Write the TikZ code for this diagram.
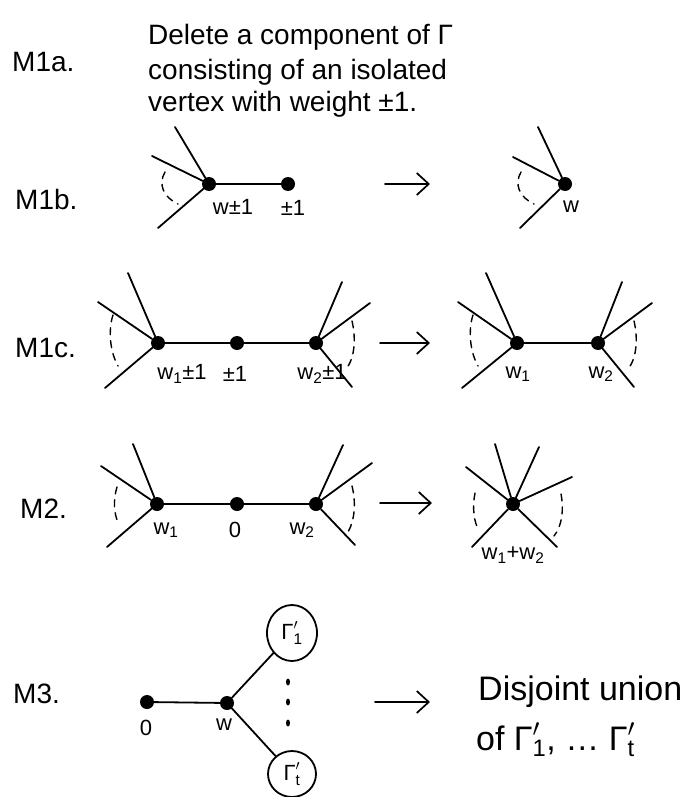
\documentclass[tikz,border=0pt]{standalone}
\usepackage{amsmath}
\usepackage{fontspec}
\setmainfont{Liberation Sans}
\usetikzlibrary{arrows.meta,shapes.geometric}
% primed Gamma with a subscript, prime and index stacked
\newcommand{\gp}[1]{$\text{Γ}^{\prime}_{\text{#1}}$}
\begin{document}
\begin{tikzpicture}[x=1pt,y=-1pt,
  edge/.style={line width=1.8pt,line cap=round},
  vtx/.style={circle,fill,inner sep=0pt,minimum size=14pt},
  gap/.style={line width=1.4pt,dash pattern=on 7pt off 6pt,line cap=round},
  move/.style={line width=1.7pt,line cap=round,-{Straight Barb[length=12pt,width=22pt,line width=1.7pt]}},
  tag/.style={inner sep=0pt,font=\fontsize{28}{30}\selectfont},
  body/.style={inner sep=0pt,font=\fontsize{28}{33}\selectfont},
  big/.style={inner sep=0pt,font=\fontsize{34}{40}\selectfont},
  wt/.style={inner sep=0pt,font=\fontsize{22}{24}\selectfont},
  blob/.style={draw,line width=1.8pt,ellipse,inner sep=0pt,font=\fontsize{22}{24}\selectfont},
]
\useasboundingbox (0,0) rectangle (690,797);

% ---------- M1a ----------
\node[tag,anchor=base west] (t1a) at (12,72) {M1a.};
\node[body,anchor=base west] (d1) at (148,45) {Delete a component of Γ};
\node[body,anchor=base west] (d2) at (148,80) {consisting of an isolated};
\node[body,anchor=base west] (d3) at (148,111) {vertex with weight ±1.};

% ---------- M1b ----------
\node[tag,anchor=base west] (t1b) at (15,209) {M1b.};
\node[vtx] (bw) at (209,184) {};
\node[vtx] (bu) at (288,184) {};
\coordinate (bt) at (175,127);
\coordinate (bl) at (152,156);
\coordinate (bb) at (158,228);
\draw[edge] (bw) -- (bt);
\draw[edge] (bw) -- (bl);
\draw[edge] (bw) -- (bb);
\draw[edge] (bw) -- (bu);
\draw[gap] (165,172) .. controls (158,184) and (163,197) .. (178,204);
\node[wt] (lbw) at (233,207) {w±1};
\node[wt] (lbu) at (293,208) {±1};

\coordinate (ba0) at (385,184);
\coordinate (ba1) at (430,184);
\draw[move] (ba0) -- (ba1);

\node[vtx] (cw) at (565,184) {};
\coordinate (ct) at (538,127);
\coordinate (cl) at (513,157);
\coordinate (cb) at (520,228);
\draw[edge] (cw) -- (ct);
\draw[edge] (cw) -- (cl);
\draw[edge] (cw) -- (cb);
\draw[gap] (521,172) .. controls (514,184) and (519,197) .. (534,204);
\node[wt] (lcw) at (571,207) {w};

% ---------- M1c ----------
\node[tag,anchor=base west] (t1c) at (15,357) {M1c.};
\node[vtx] (a1) at (158,343) {};
\node[vtx] (a2) at (237,343) {};
\node[vtx] (a3) at (316,343) {};
\coordinate (a1t) at (128,273);
\coordinate (a1l) at (98,302);
\coordinate (a1b) at (105,388);
\coordinate (a3t) at (342,282);
\coordinate (a3r) at (370,303);
\coordinate (a3b) at (352,387);
\draw[edge] (a1) -- (a1t);
\draw[edge] (a1) -- (a1l);
\draw[edge] (a1) -- (a1b);
\draw[edge] (a3) -- (a3t);
\draw[edge] (a3) -- (a3r);
\draw[edge] (a3) -- (a3b);
\draw[edge] (a1) -- (a2);
\draw[edge] (a2) -- (a3);
\draw[gap] (113,315) .. controls (108,330) and (110,352) .. (118,366);
\draw[gap] (352,321) .. controls (356,338) and (355,358) .. (346,369);
\node[wt] (la1) at (182,374) {w\textsubscript{1}±1};
\node[wt] (la2) at (235,374) {±1};
\node[wt] (la3) at (322,374) {w\textsubscript{2}±1};

\coordinate (ca0) at (380,343);
\coordinate (ca1) at (430,343);
\draw[move] (ca0) -- (ca1);

\node[vtx] (e1) at (517,343) {};
\node[vtx] (e2) at (598,343) {};
\coordinate (e1t) at (486,273);
\coordinate (e1l) at (458,302);
\coordinate (e1b) at (462,388);
\coordinate (e2t) at (622,282);
\coordinate (e2r) at (652,303);
\coordinate (e2b) at (634,387);
\draw[edge] (e1) -- (e1t);
\draw[edge] (e1) -- (e1l);
\draw[edge] (e1) -- (e1b);
\draw[edge] (e2) -- (e2t);
\draw[edge] (e2) -- (e2r);
\draw[edge] (e2) -- (e2b);
\draw[edge] (e1) -- (e2);
\draw[gap] (473,315) .. controls (468,330) and (470,352) .. (478,366);
\draw[gap] (634,321) .. controls (638,338) and (637,358) .. (628,369);
\node[wt] (le1) at (518,374) {w\textsubscript{1}};
\node[wt] (le2) at (601,374) {w\textsubscript{2}};

% ---------- M2 ----------
\node[tag,anchor=base west] (t2) at (20,518) {M2.};
\node[vtx] (f1) at (157,504) {};
\node[vtx] (f0) at (237,504) {};
\node[vtx] (f2) at (316,504) {};
\coordinate (f1t) at (133,444);
\coordinate (f1l) at (101,466);
\coordinate (f1b) at (107,547);
\coordinate (f2t) at (343,445);
\coordinate (f2r) at (372,463);
\coordinate (f2b) at (355,545);
\draw[edge] (f1) -- (f1t);
\draw[edge] (f1) -- (f1l);
\draw[edge] (f1) -- (f1b);
\draw[edge] (f2) -- (f2t);
\draw[edge] (f2) -- (f2r);
\draw[edge] (f2) -- (f2b);
\draw[edge] (f1) -- (f0);
\draw[edge] (f0) -- (f2);
\draw[gap] (117,487) .. controls (113,500) and (114,514) .. (118,522);
\draw[gap] (352,486) .. controls (356,502) and (355,520) .. (348,532);
\node[wt] (lf1) at (166,530) {w\textsubscript{1}};
\node[wt] (lf0) at (235,530) {0};
\node[wt] (lf2) at (302,530) {w\textsubscript{2}};

\coordinate (da0) at (380,503);
\coordinate (da1) at (432,503);
\draw[move] (da0) -- (da1);

\node[vtx] (g) at (513,504) {};
\coordinate (gt1) at (495,444);
\coordinate (gt2) at (539,447);
\coordinate (gl) at (466,467);
\coordinate (gr) at (572,477);
\coordinate (gb1) at (472,547);
\coordinate (gb2) at (557,547);
\draw[edge] (g) -- (gt1);
\draw[edge] (g) -- (gt2);
\draw[edge] (g) -- (gl);
\draw[edge] (g) -- (gr);
\draw[edge] (g) -- (gb1);
\draw[edge] (g) -- (gb2);
\draw[gap] (475,493) .. controls (472,508) and (474,522) .. (479,531);
\draw[gap] (561,494) .. controls (564,510) and (562,526) .. (554,536);
\node[wt] (lg) at (513,555) {w\textsubscript{1}+w\textsubscript{2}};

% ---------- M3 ----------
\node[tag,anchor=base west] (t3) at (13,703) {M3.};
\node[vtx] (h0) at (147,702) {};
\node[vtx] (hw) at (227,703) {};
\node[blob,minimum width=50pt,minimum height=56pt] (g1) at (292,633) {\gp{1}};
\node[blob,minimum width=48pt,minimum height=46pt] (gt) at (292,774) {\gp{t}};
\draw[edge] (h0) -- (hw);
\draw[edge] (hw) -- (g1);
\draw[edge] (hw) -- (gt);
\foreach \yy [count=\k] in {682,702,723}
  \node[fill,ellipse,inner sep=0pt,minimum width=4pt,minimum height=7pt] (dot\k) at (288,\yy) {};
\node[wt] (lh0) at (146,728) {0};
\node[wt] (lhw) at (224,725) {w};

\coordinate (ea0) at (375,702);
\coordinate (ea1) at (430,702);
\draw[move] (ea0) -- (ea1);

\node[big,anchor=base west] (u1) at (478,700) {Disjoint union};
\node[big,anchor=base west] (u2) at (476,750) {of \gp{1}, \dots\ \gp{t}};
\end{tikzpicture}
\end{document}
